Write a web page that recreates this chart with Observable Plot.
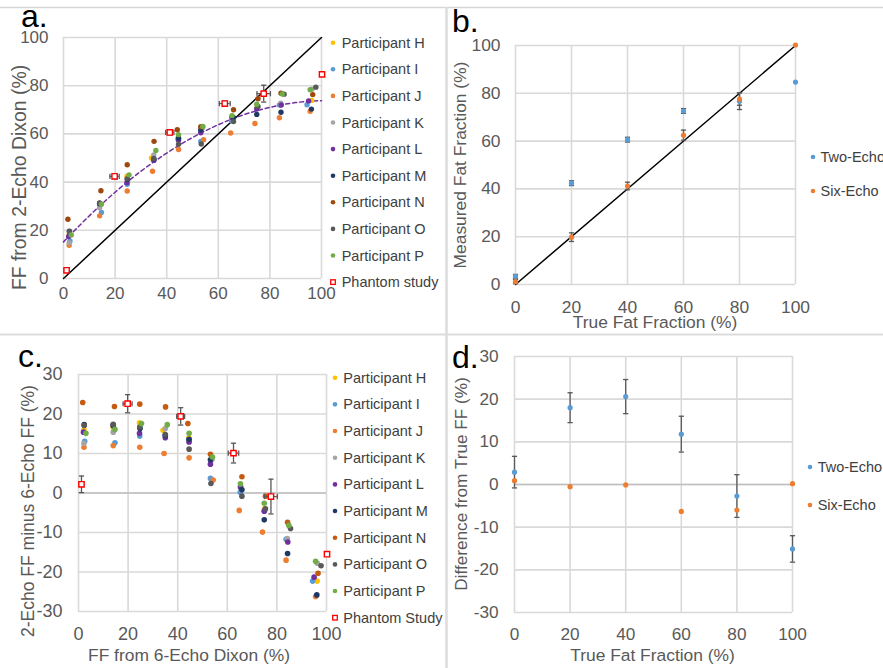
<!DOCTYPE html>
<html><head><meta charset="utf-8">
<script src="https://cdn.jsdelivr.net/npm/d3@7"></script>
<script src="https://cdn.jsdelivr.net/npm/@observablehq/plot@0.6"></script>
<style>
body{margin:0;background:#fff;font-family:"Liberation Sans",Arial,sans-serif;}
#root{position:relative;width:883px;height:668px;overflow:hidden;background:#fff;}
.pw{position:absolute;}
.pw svg{overflow:visible;}
</style></head><body><div id="root"></div>
<script>
// ---------- data ----------
const participantNames = ["Participant H","Participant I","Participant J","Participant K","Participant L","Participant M","Participant N","Participant O","Participant P"];
const colorsA = ["#FFC000","#5B9BD5","#ED7D31","#A5A5A5","#7030A0","#1F3864","#9E480E","#595959","#70AD47"];
const colorsC = ["#FFC000","#5B9BD5","#ED7D31","#A5A5A5","#7030A0","#1F3864","#C55A11","#595959","#70AD47"];

// FF from 6-echo Dixon (x) and FF from 2-echo Dixon, per participant
const ff6H = [2.2,14.0,24.6,34.1,44.5,54.0,65.5,75.0,84.0,96.2];
const ff2H = [18.2,30.5,42.4,50.0,58.5,63.0,67.0,71.0,72.0,73.9];
const ff6I = [2.5,14.7,24.7,35.0,44.4,53.2,65.2,75.0,83.7,94.4];
const ff2I = [15.6,27.4,39.1,49.5,57.9,56.9,65.4,70.6,72.0,72.1];
const ff6J = [2.2,14.0,24.7,34.5,44.6,54.3,64.8,74.2,83.7,95.6];
const ff2J = [13.8,26.0,36.3,44.5,53.5,57.6,60.4,64.3,66.7,69.4];
const ff6K = [2.2,14.0,24.7,35.0,44.5,53.8,65.5,75.2,84.2,96.3];
const ff2K = [14.8,29.4,41.2,51.3,57.5,62.3,66.5,71.0,72.7,78.5];
const ff6L = [2.0,14.0,24.6,35.0,44.6,53.2,65.3,74.9,84.4,95.0];
const ff2L = [17.4,31.2,39.7,49.0,57.5,60.5,66.8,70.3,72.0,73.7];
const ff6M = [2.3,14.0,24.8,35.0,44.6,53.2,65.9,74.9,84.3,96.1];
const ff2M = [19.6,31.0,41.1,49.6,58.2,61.6,66.7,68.1,69.0,70.3];
const ff6N = [1.7,14.5,24.7,35.1,44.1,53.2,65.9,75.4,84.3,96.6];
const ff2N = [24.6,36.4,47.2,56.9,61.7,63.0,70.0,74.6,76.9,76.3];
const ff6O = [2.3,14.0,24.7,35.0,44.6,53.4,65.9,75.4,85.5,97.8];
const ff2O = [19.4,31.4,41.4,49.8,55.7,55.8,65.1,71.4,76.5,79.4];
const ff6P = [3.0,14.7,25.4,35.8,44.6,54.0,65.3,74.9,84.8,95.6];
const ff2P = [18.1,30.8,43.0,53.1,59.7,63.1,67.6,72.3,76.6,78.3];

// trendline (dashed purple)
const trendX = [0,10,20,30,40,50,60,70,80,90,100];
const trendY = [15.2,26.0,35.8,44.5,52.0,58.5,63.8,68.0,71.0,73.0,73.8];

// phantom study
const trueFF = [0,20,40,60,80,100];
const phantomSix = [1.2,19.8,41.2,62.5,77.6,100.2];
const phantomTwo = [3.4,42.4,60.6,72.6,76.7,84.7];
const phantomSixErr = [0.9,1.8,1.6,2.1,2.6,0];
const phantomTwoErr = [0.8,1.0,1.0,1.0,3.5,0];
const phantomDiffErr = [2.1,2.3,2.2,2.5,4.4,0];

// panel d: difference from true FF
const dTwo = [2.9,18.0,20.6,11.8,-2.7,-15.1];
const dSix = [0.9,-0.5,-0.1,-6.3,-6.0,0.2];
const dTwoErr = [3.7,3.5,4.0,4.2,5.0,3.1];

// ticks
const ticks0to100 = [0,20,40,60,80,100];
const ticksDiff = [-30,-20,-10,0,10,20,30];
const diagX = [0,100];
const diagY = [0,100];

// ---------- build tables ----------
const ff6All = [ff6H,ff6I,ff6J,ff6K,ff6L,ff6M,ff6N,ff6O,ff6P];
const ff2All = [ff2H,ff2I,ff2J,ff2K,ff2L,ff2M,ff2N,ff2O,ff2P];
const pts = [];
participantNames.forEach((name, k) => {
  ff6All[k].forEach((x, i) => pts.push({name, six: x, two: ff2All[k][i], diff: ff2All[k][i] - x}));
});
const phantom = trueFF.map((t, i) => ({
  truth: t, six: phantomSix[i], two: phantomTwo[i],
  diff: phantomTwo[i] - phantomSix[i],
  sixErr: phantomSixErr[i], twoErr: phantomTwoErr[i], diffErr: phantomDiffErr[i]
}));
const dRows = trueFF.map((t, i) => ({truth: t, two: dTwo[i], six: dSix[i], err: dTwoErr[i]}));
const trend = trendX.map((x, i) => ({x, y: trendY[i]}));
const diag = diagX.map((x, i) => ({x, y: diagY[i]}));

// ---------- styles ----------
const GRID = "#d9d9d9", ERR = "#595959", TXT = "#595959";
const hCap = {draw(ctx){ ctx.moveTo(-2.6,0); ctx.lineTo(2.6,0); }};
const vCap = {draw(ctx){ ctx.moveTo(0,-2.6); ctx.lineTo(0,2.6); }};
const fmt = d => String(d);
const root = document.getElementById("root");
function place(svg, left, top) {
  const w = document.createElement("div");
  w.className = "pw"; w.style.left = left + "px"; w.style.top = top + "px";
  w.append(svg); root.append(w);
}
const baseStyle = {fontFamily: "'Liberation Sans', Arial, sans-serif", color: TXT, background: "transparent", overflow: "visible"};

function gridMarks(xt, yt) {
  return [
    Plot.ruleX(xt, {x: d => d, stroke: GRID, strokeWidth: 1.6}),
    Plot.ruleY(yt, {y: d => d, stroke: GRID, strokeWidth: 1.6})
  ];
}
function errMarks(data, xK, yK, xErrK, yErrK) {
  const m = [];
  if (yErrK) {
    const f = data.filter(d => d[yErrK] > 0);
    m.push(Plot.ruleX(f, {x: xK, y1: d => d[yK] - d[yErrK], y2: d => d[yK] + d[yErrK], stroke: ERR, strokeWidth: 1.3}));
    m.push(Plot.dot(f, {x: xK, y: d => d[yK] - d[yErrK], symbol: hCap, stroke: ERR, fill: "none", strokeWidth: 1.3, r: 3}));
    m.push(Plot.dot(f, {x: xK, y: d => d[yK] + d[yErrK], symbol: hCap, stroke: ERR, fill: "none", strokeWidth: 1.3, r: 3}));
  }
  if (xErrK) {
    const f = data.filter(d => d[xErrK] > 0);
    m.push(Plot.ruleY(f, {y: yK, x1: d => d[xK] - d[xErrK], x2: d => d[xK] + d[xErrK], stroke: ERR, strokeWidth: 1.3}));
    m.push(Plot.dot(f, {y: yK, x: d => d[xK] - d[xErrK], symbol: vCap, stroke: ERR, fill: "none", strokeWidth: 1.3, r: 3}));
    m.push(Plot.dot(f, {y: yK, x: d => d[xK] + d[xErrK], symbol: vCap, stroke: ERR, fill: "none", strokeWidth: 1.3, r: 3}));
  }
  return m;
}

// ---------- panel a ----------
place(Plot.plot({
  width: 330, height: 320, marginLeft: 63, marginRight: 9, marginTop: 37, marginBottom: 42,
  style: {...baseStyle, fontSize: "17px"},
  x: {domain: [0,100], ticks: ticks0to100, tickSize: 0, tickPadding: 8, label: null, tickFormat: fmt},
  y: {domain: [0,100], ticks: ticks0to100, tickSize: 0, tickPadding: 15, label: null, tickFormat: fmt},
  color: {domain: participantNames, range: colorsA},
  marks: [
    ...gridMarks(ticks0to100, ticks0to100),
    Plot.line(diag, {x: "x", y: "y", stroke: "#000", strokeWidth: 1.5}),
    Plot.line(trend, {x: "x", y: "y", stroke: "#7030A0", strokeWidth: 1.5, strokeDasharray: "4,3", curve: "natural"}),
    Plot.dot(pts, {x: "six", y: "two", fill: "name", r: 2.7}),
    ...errMarks(phantom, "six", "two", "sixErr", "twoErr"),
    Plot.dot(phantom, {x: "six", y: "two", symbol: "square", r: 3, stroke: "#FF0000", fill: "#fff", strokeWidth: 1.4})
  ]
}), 0, 0);

// ---------- panel b ----------
place(Plot.plot({
  width: 438, height: 330, marginLeft: 70, marginRight: 88, marginTop: 45, marginBottom: 46,
  style: {...baseStyle, fontSize: "17.4px"},
  x: {domain: [0,100], ticks: ticks0to100, tickSize: 0, tickPadding: 16, label: null, tickFormat: fmt},
  y: {domain: [0,100], ticks: ticks0to100, tickSize: 0, tickPadding: 15, label: null, tickFormat: fmt},
  marks: [
    ...gridMarks(ticks0to100, ticks0to100),
    Plot.line(diag, {x: "x", y: "y", stroke: "#000", strokeWidth: 1.5}),
    ...errMarks(phantom, "truth", "two", null, "twoErr"),
    ...errMarks(phantom, "truth", "six", null, "sixErr"),
    Plot.dot(phantom, {x: "truth", y: "two", fill: "#5B9BD5", r: 2.6}),
    Plot.dot(phantom, {x: "truth", y: "six", fill: "#ED7D31", r: 2.6})
  ]
}), 445, 0);

// ---------- panel c ----------
place(Plot.plot({
  width: 340, height: 333, marginLeft: 78, marginRight: 14, marginTop: 39, marginBottom: 57,
  style: {...baseStyle, fontSize: "18px"},
  x: {domain: [0,100], ticks: ticks0to100, tickSize: 0, tickPadding: 15.5, label: null, tickFormat: fmt},
  y: {domain: [-30,30], ticks: ticksDiff, tickSize: 0, tickPadding: 16, label: null, tickFormat: fmt},
  color: {domain: participantNames, range: colorsC},
  marks: [
    ...gridMarks(ticks0to100, ticksDiff),
    Plot.ruleY([0], {y: d => d, stroke: "#bfbfbf", strokeWidth: 1.6}),
    Plot.dot(pts, {x: "six", y: "diff", fill: "name", r: 2.8}),
    ...errMarks(phantom, "six", "diff", "sixErr", "diffErr"),
    Plot.dot(phantom, {x: "six", y: "diff", symbol: "square", r: 3, stroke: "#FF0000", fill: "#fff", strokeWidth: 1.4})
  ]
}), 0, 335);

// ---------- panel d ----------
place(Plot.plot({
  width: 438, height: 333, marginLeft: 69, marginRight: 91, marginTop: 21, marginBottom: 56,
  style: {...baseStyle, fontSize: "17.2px"},
  x: {domain: [0,100], ticks: ticks0to100, tickSize: 0, tickPadding: 15, label: null, tickFormat: fmt},
  y: {domain: [-30,30], ticks: ticksDiff, tickSize: 0, tickPadding: 16, label: null, tickFormat: fmt},
  marks: [
    ...gridMarks(ticks0to100, ticksDiff),
    Plot.ruleY([0], {y: d => d, stroke: "#bfbfbf", strokeWidth: 1.6}),
    ...errMarks(dRows, "truth", "two", null, "err"),
    Plot.dot(dRows, {x: "truth", y: "two", fill: "#5B9BD5", r: 2.6}),
    Plot.dot(dRows, {x: "truth", y: "six", fill: "#ED7D31", r: 2.6})
  ]
}), 445, 335);

// ---------- overlay: separators, panel letters, titles, legends ----------
const ov = d3.select(root).append("svg")
  .attr("width", 883).attr("height", 668)
  .style("position", "absolute").style("left", 0).style("top", 0)
  .style("font-family", "'Liberation Sans', Arial, sans-serif");
ov.append("line").attr("x1", 0).attr("x2", 883).attr("y1", 7.5).attr("y2", 7.5).attr("stroke", "#d6d6d6").attr("stroke-width", 1.5);
ov.append("line").attr("x1", 0).attr("x2", 883).attr("y1", 334.5).attr("y2", 334.5).attr("stroke", "#dcdcdc").attr("stroke-width", 2);
ov.append("line").attr("x1", 446.5).attr("x2", 446.5).attr("y1", 7).attr("y2", 668).attr("stroke", "#dcdcdc").attr("stroke-width", 2.5);

const letters = [["a.", 21, 26.7], ["b.", 452, 31.5], ["c.", 18, 366.5], ["d.", 452, 368]];
letters.forEach(([t, x, y]) => ov.append("text").attr("x", x).attr("y", y).attr("font-size", 32).attr("fill", "#000").text(t));

function title(t, cx, cy, size, rot) {
  ov.append("text").attr("transform", `translate(${cx},${cy}) rotate(${rot ? -90 : 0})`)
    .attr("text-anchor", "middle").attr("dy", "0.35em").attr("font-size", size).attr("fill", TXT).text(t);
}
title("FF from 2-Echo Dixon (%)", 19, 177.5, 19.4, true);
title("Measured Fat Fraction (%)", 460, 165, 17.4, true);
title("True Fat Fraction (%)", 655, 322, 17.4, false);
title("2-Echo FF minus 6-Echo FF (%)", 27.5, 511, 17.5, true);
title("FF from 6-Echo Dixon (%)", 189, 655, 17.4, false);
title("Difference from True FF (%)", 461, 484, 17.2, true);
title("True Fat Fraction (%)", 652.5, 655, 17.4, false);

function legend(items, mx, tx, y0, dy) {
  items.forEach(([label, color, square], i) => {
    const y = y0 + i * dy;
    if (square) ov.append("rect").attr("x", mx - 2.3).attr("y", y - 2.3).attr("width", 4.6).attr("height", 4.6)
      .attr("fill", "#fff").attr("stroke", "#FF0000").attr("stroke-width", 1.3);
    else ov.append("circle").attr("cx", mx).attr("cy", y).attr("r", 2.3).attr("fill", color);
    ov.append("text").attr("x", tx).attr("y", y).attr("dy", "0.35em").attr("font-size", 14.5).attr("fill", "#404040").text(label);
  });
}
legend([...participantNames.map((n, i) => [n, colorsA[i]]), ["Phantom study", null, true]], 333, 341.7, 42.7, 26.6);
legend([...participantNames.map((n, i) => [n, colorsC[i]]), ["Phantom Study", null, true]], 335, 343.3, 377.7, 26.67);
legend([["Two-Echo", "#5B9BD5"], ["Six-Echo", "#ED7D31"]], 813, 820.5, 157, 34);
legend([["Two-Echo", "#5B9BD5"], ["Six-Echo", "#ED7D31"]], 810, 817.7, 467, 38);
</script></body></html>
